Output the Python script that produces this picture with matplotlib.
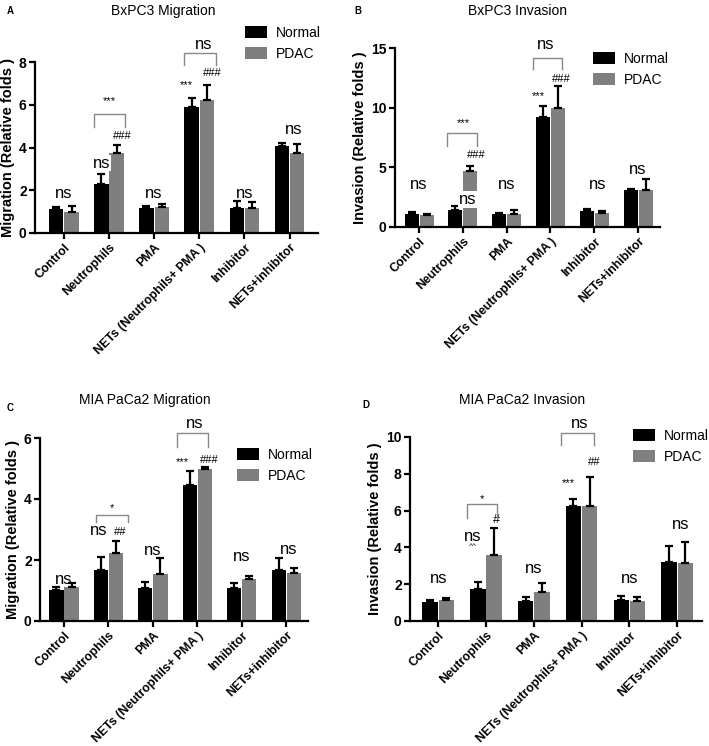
import numpy as np
import matplotlib
matplotlib.use("Agg")
import matplotlib.pyplot as plt
from matplotlib.patches import Patch

plt.rcParams['font.family'] = ['Liberation Sans', 'DejaVu Sans']

# ------------------------------------------
# Data
# ------------------------------------------

groups = ['Control', 'Neutrophils', 'PMA', 'NETs (Neutrophils+ PMA )',
          'Inhibitor', 'NETs+inhibitor']

# A: BxPC3 Migration
a_normal = [1.13, 2.29, 1.17, 5.89, 1.16, 4.08]
a_normal_err = [0.08, 0.48, 0.07, 0.42, 0.36, 0.15]
a_pdac = [1.00, 3.75, 1.23, 6.23, 1.16, 3.74]
a_pdac_err = [0.25, 0.35, 0.14, 0.70, 0.29, 0.43]

# B: BxPC3 Invasion
b_normal = [1.05, 1.42, 1.06, 9.20, 1.33, 3.12]
b_normal_err = [0.2, 0.38, 0.1, 0.9, 0.15, 0.1]
b_pdac = [1.02, 4.72, 1.08, 10.0, 1.20, 3.07]
b_pdac_err = [0.1, 0.38, 0.35, 1.85, 0.12, 0.93]

# C: MIA PaCa2 Migration
c_normal = [1.01, 1.67, 1.07, 4.46, 1.07, 1.67]
c_normal_err = [0.09, 0.42, 0.22, 0.46, 0.17, 0.38]
c_pdac = [1.12, 2.24, 1.53, 4.97, 1.38, 1.59]
c_pdac_err = [0.12, 0.39, 0.52, 0.07, 0.09, 0.16]

# D: MIA PaCa2 Invasion
d_normal = [1.05, 1.72, 1.10, 6.27, 1.16, 3.20]
d_normal_err = [0.09, 0.38, 0.2, 0.37, 0.18, 0.87]
d_pdac = [1.12, 3.60, 1.55, 6.27, 1.10, 3.16]
d_pdac_err = [0.11, 1.46, 0.53, 1.54, 0.2, 1.13]

# significance labels: (x, y, text, size); 'ns*' = ns on a white patch
a_notes = [(0, 1.87, 'ns', 12), (0.84, 3.27, 'ns*', 12), (1.30, 4.55, '###', 8),
           (1.0, 6.15, '***', 8), (2, 1.87, 'ns', 12), (2.71, 6.9, '***', 8),
           (3.29, 7.48, '###', 8), (3.1, 8.84, 'ns', 12), (4, 1.87, 'ns', 12),
           (5.09, 4.83, 'ns', 12)]
a_brackets = [(0.66, 1.36, 4.98, 5.56), (2.67, 3.36, 7.85, 8.4)]

b_notes = [(0, 3.53, 'ns', 12), (1.11, 2.3, 'ns*', 12), (1.30, 6.0, '###', 8),
           (1.0, 8.75, '***', 8), (2, 3.53, 'ns', 12), (2.73, 11.0, '***', 8),
           (3.25, 12.4, '###', 8), (2.9, 15.3, 'ns', 12), (4.07, 3.53, 'ns', 12),
           (5, 4.86, 'ns', 12)]
b_brackets = [(0.64, 1.32, 6.8, 7.9), (2.59, 3.27, 13.2, 14.2)]

c_notes = [(0, 1.37, 'ns', 12), (0.77, 2.98, 'ns', 12), (1.26, 2.93, '##', 8),
           (1.08, 3.69, '*', 8), (2, 2.3, 'ns', 12), (2.66, 5.22, '***', 8),
           (3.27, 5.28, '###', 8), (2.93, 6.48, 'ns', 12), (4, 2.11, 'ns', 12),
           (5.05, 2.35, 'ns', 12)]
c_brackets = [(0.72, 1.44, 3.26, 3.48), (2.55, 3.25, 5.72, 6.17)]

d_notes = [(0, 2.31, 'ns', 12), (0.73, 4.57, 'ns', 12), (0.73, 4.05, '^^', 6),
           (1.21, 5.48, '#', 9), (0.92, 6.65, '*', 8), (2, 2.84, 'ns', 12),
           (2.73, 7.5, '***', 8), (3.27, 8.64, '##', 8), (2.97, 10.75, 'ns', 12),
           (4, 2.31, 'ns', 12), (5.08, 5.24, 'ns', 12)]
d_brackets = [(0.6, 1.23, 5.6, 6.35), (2.56, 3.25, 9.56, 10.2)]

BLACK = '#000000'
GRAY = '#7f7f7f'
width = 0.32

fig = plt.figure(figsize=(7.09, 7.46), dpi=100)


def fx(px):
    return px / 709


def fy(py):
    return 1 - py / 746


def panel(rect, normal, n_err, pdac, p_err, ylim, yticks, ylabel, notes, brackets, xlim):
    ax = fig.add_axes(rect)
    x = np.arange(len(groups))
    ax.bar(x - 0.17, normal, width, color=BLACK, zorder=2)
    ax.bar(x + 0.17, pdac, width, color=GRAY, zorder=2)
    ax.errorbar(x - 0.17, normal, yerr=[np.zeros(len(x)), n_err], fmt='none',
                ecolor=BLACK, elinewidth=1.6, capsize=3, capthick=1.6, zorder=3)
    ax.errorbar(x + 0.17, pdac, yerr=[np.zeros(len(x)), p_err], fmt='none',
                ecolor=BLACK, elinewidth=1.6, capsize=3, capthick=1.6, zorder=3)
    ax.set_xlim(*xlim)
    ax.set_ylim(*ylim)
    ax.set_yticks(yticks)
    ax.set_xticks(x)
    ax.set_xticklabels(groups, rotation=45, ha='right', rotation_mode='anchor',
                       fontsize=8.8, fontweight='bold')
    for lab in ax.get_yticklabels():
        lab.set_fontweight('bold')
        lab.set_fontsize(10)
    ax.set_ylabel(ylabel, fontsize=10.5, fontweight='bold', labelpad=3)
    ax.spines['top'].set_visible(False)
    ax.spines['right'].set_visible(False)
    ax.spines['left'].set_linewidth(1.6)
    ax.spines['bottom'].set_linewidth(1.6)
    ax.tick_params(width=1.6, length=4, pad=2)
    ax.tick_params(axis='x', pad=2)
    for xx, yy, t, s in notes:
        if t == 'ns*':
            ax.text(xx, yy, 'ns', fontsize=s, ha='center', va='center', zorder=4,
                    bbox=dict(facecolor='white', edgecolor='none', pad=0.5))
        else:
            ax.text(xx, yy, t, fontsize=s, ha='center', va='center', zorder=4,
                    clip_on=False)
    for x0, x1, y0, y1 in brackets:
        ax.plot([x0, x0, x1, x1], [y0, y1, y1, y0], color='#888888', lw=1.0,
                clip_on=False, zorder=4)
    return ax


# panel rectangles from pixel layout
ax_a = panel([fx(35), fy(233), fx(283), 171 / 746], a_normal, a_normal_err, a_pdac, a_pdac_err,
             (0, 8), [0, 2, 4, 6, 8], 'Migration (Relative folds )', a_notes, a_brackets,
             (-0.64, 5.63))
ax_b = panel([fx(395), fy(227), fx(265), 179 / 746], b_normal, b_normal_err, b_pdac, b_pdac_err,
             (0, 15), [0, 5, 10, 15], 'Invasion (Relative folds )', b_notes, b_brackets,
             (-0.55, 5.5))
ax_c = panel([fx(40), fy(621), fx(268), 183 / 746], c_normal, c_normal_err, c_pdac, c_pdac_err,
             (0, 6), [0, 2, 4, 6], 'Migration (Relative folds )', c_notes, c_brackets,
             (-0.54, 5.49))
ax_d = panel([fx(410), fy(621), fx(292), 184 / 746], d_normal, d_normal_err, d_pdac, d_pdac_err,
             (0, 10), [0, 2, 4, 6, 8, 10], 'Invasion (Relative folds )', d_notes, d_brackets,
             (-0.59, 5.52))

# titles and panel letters
fig.text(fx(163), fy(11), 'BxPC3 Migration', fontsize=10, ha='center', va='center')
fig.text(fx(518), fy(11), 'BxPC3 Invasion', fontsize=10, ha='center', va='center')
fig.text(fx(145), fy(400), 'MIA PaCa2 Migration', fontsize=10, ha='center', va='center')
fig.text(fx(522), fy(400), 'MIA PaCa2 Invasion', fontsize=10, ha='center', va='center')
fig.text(fx(10), fy(11), 'A', fontsize=7, fontweight='bold', ha='center', va='center')
fig.text(fx(358), fy(11), 'B', fontsize=7, fontweight='bold', ha='center', va='center')
fig.text(fx(10), fy(408), 'C', fontsize=7, fontweight='bold', ha='center', va='center')
fig.text(fx(366), fy(405), 'D', fontsize=7, fontweight='bold', ha='center', va='center')

# legends
handles = [Patch(facecolor=BLACK, label='Normal'), Patch(facecolor=GRAY, label='PDAC')]
for ax, (lx, ly) in zip([ax_a, ax_b, ax_c, ax_d],
                        [(245, 26), (593, 52), (237, 448), (633, 429)]):
    ax.legend(handles=handles, loc='upper left', bbox_to_anchor=(fx(lx), fy(ly)),
              bbox_transform=fig.transFigure, frameon=False, fontsize=10,
              borderpad=0, borderaxespad=0, handlelength=1.6, handleheight=1.0,
              handletextpad=0.6, labelspacing=0.5)

fig.savefig('out.png', dpi=100)
